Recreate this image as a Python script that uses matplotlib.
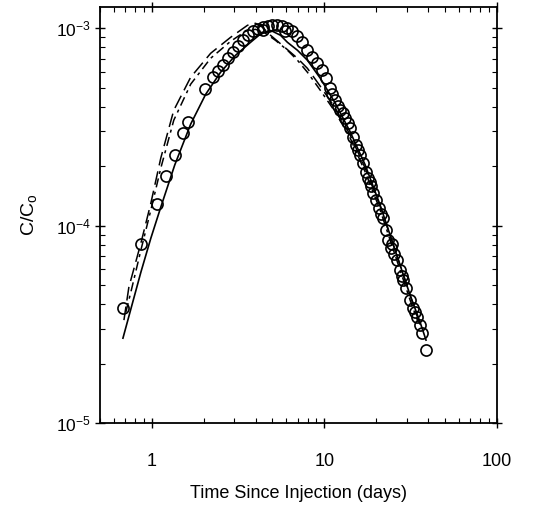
import matplotlib
matplotlib.use("Agg")
import matplotlib.pyplot as plt
from matplotlib.ticker import LogLocator, NullFormatter, FixedLocator

plt.rcParams['font.family'] = ['Liberation Sans', 'DejaVu Sans']
plt.rcParams['mathtext.fontset'] = 'custom'
plt.rcParams['mathtext.rm'] = 'Liberation Sans'
plt.rcParams['mathtext.it'] = 'Liberation Sans:italic'

# measured tracer concentrations (open circles)
obs_t = [0.680, 0.864, 1.069, 1.205, 1.358, 1.511, 1.615, 2.025, 2.252, 2.407,
         2.573, 2.750, 2.939, 3.142, 3.357, 3.588, 3.836, 4.100, 4.382, 4.382,
         4.684, 5.006, 5.350, 5.719, 5.953, 6.112, 6.531, 6.983, 7.462, 7.977,
         8.52, 9.11, 9.74, 10.27, 10.83, 11.12, 11.58, 12.05, 12.38, 12.88,
         13.23, 13.76, 14.14, 14.71, 15.31, 15.73, 16.15, 16.80, 17.49, 17.96,
         18.45, 18.69, 19.19, 19.98, 20.79, 21.35, 21.93, 22.83, 23.44, 24.39,
         24.73, 25.39, 26.42, 27.50, 28.24, 28.62, 29.79, 31.42, 32.70, 33.57,
         34.48, 35.88, 36.86, 38.87]
obs_c = [3.82e-5, 8.06e-5, 1.285e-4, 1.78e-4, 2.28e-4, 2.94e-4, 3.34e-4, 4.91e-4, 5.65e-4, 6.06e-4,
         6.50e-4, 7.05e-4, 7.56e-4, 8.11e-4, 8.69e-4, 9.22e-4, 9.66e-4, 9.88e-4, 1.012e-3, 9.77e-4,
         1.024e-3, 1.036e-3, 1.036e-3, 1.024e-3, 9.66e-4, 1.000e-3, 9.66e-4, 9.11e-4, 8.49e-4, 7.74e-4,
         7.13e-4, 6.65e-4, 6.13e-4, 5.58e-4, 4.97e-4, 4.63e-4, 4.32e-4, 4.03e-4, 3.84e-4, 3.71e-4,
         3.50e-4, 3.30e-4, 3.12e-4, 2.81e-4, 2.56e-4, 2.41e-4, 2.28e-4, 2.07e-4, 1.87e-4, 1.74e-4,
         1.66e-4, 1.58e-4, 1.46e-4, 1.35e-4, 1.23e-4, 1.14e-4, 1.09e-4, 9.49e-5, 8.45e-5, 7.69e-5,
         8.06e-5, 7.17e-5, 6.69e-5, 5.95e-5, 5.55e-5, 5.30e-5, 4.83e-5, 4.20e-5, 3.82e-5, 3.65e-5,
         3.44e-5, 3.14e-5, 2.86e-5, 2.34e-5]

# model fit (solid)
fit_t = [0.680, 0.864, 0.987, 1.127, 1.358, 1.680, 2.052, 2.505, 3.059, 3.735,
         4.382, 5.006, 5.568, 6.112, 6.983, 7.977, 9.48, 11.58, 14.14, 17.26,
         21.07, 25.73, 31.42, 35.88, 38.87]
fit_c = [2.69e-5, 5.81e-5, 8.64e-5, 1.241e-4, 2.03e-4, 3.27e-4, 4.63e-4, 5.99e-4, 7.30e-4, 8.49e-4,
         9.54e-4, 9.66e-4, 9.22e-4, 8.49e-4, 7.74e-4, 6.89e-4, 5.58e-4, 4.17e-4, 2.98e-4, 2.03e-4,
         1.27e-4, 7.51e-5, 4.45e-5, 3.25e-5, 2.63e-5]

# alternative model runs (dashed)
alt1_t = [0.689, 0.736, 0.864, 0.987, 1.127, 1.340, 1.680, 2.193, 2.862, 3.588,
          3.993, 4.382, 4.875, 5.794, 6.983, 7.977, 9.48, 11.58, 14.14, 17.26,
          21.07, 25.73, 31.42, 35.88]
alt1_c = [3.32e-5, 4.88e-5, 8.15e-5, 1.30e-4, 2.20e-4, 3.84e-4, 5.65e-4, 7.47e-4, 9.00e-4, 1.036e-3,
          1.060e-3, 1.012e-3, 9.22e-4, 8.11e-4, 7.05e-4, 6.27e-4, 5.08e-4, 3.94e-4, 2.87e-4, 1.955e-4,
          1.255e-4, 7.51e-5, 4.45e-5, 3.14e-5]

alt2_t = [0.707, 0.756, 0.864, 0.987, 1.127, 1.340, 1.680, 2.193, 2.862, 3.494,
          3.993, 4.560, 5.209, 6.112, 6.983, 7.977, 9.48, 11.58, 14.14, 17.26,
          21.07, 25.73, 31.42, 34.95]
alt2_c = [3.65e-5, 4.61e-5, 7.51e-5, 1.20e-4, 1.955e-4, 3.42e-4, 5.21e-4, 7.05e-4, 8.59e-4, 9.66e-4,
          9.88e-4, 9.43e-4, 8.69e-4, 7.74e-4, 6.89e-4, 5.99e-4, 4.85e-4, 3.76e-4, 2.77e-4, 1.87e-4,
          1.20e-4, 7.09e-5, 4.20e-5, 3.25e-5]

fig = plt.figure(figsize=(5.52, 5.09), dpi=100)
ax = fig.add_axes([0.181, 0.169, 0.719, 0.817])

ax.plot(alt1_t, alt1_c, color='black', lw=1.1, dashes=(9, 4))
ax.plot(alt2_t, alt2_c, color='black', lw=1.1, dashes=(6, 3, 2, 3))
ax.plot(fit_t, fit_c, color='black', lw=1.2)
ax.plot(obs_t, obs_c, 'o', mfc='none', mec='black', ms=8, mew=1.2)

ax.set_xscale('log')
ax.set_yscale('log')
ax.set_xlim(0.5, 100)
ax.set_ylim(1e-5, 1.28e-3)

ax.xaxis.set_major_locator(FixedLocator([1, 10, 100]))
ax.set_xticklabels(['1', '10', '100'])
ax.xaxis.set_minor_locator(LogLocator(base=10, subs=range(2, 10)))
ax.xaxis.set_minor_formatter(NullFormatter())
ax.yaxis.set_major_locator(FixedLocator([1e-5, 1e-4, 1e-3]))
ax.set_yticklabels(['10$^{-5}$', '10$^{-4}$', '10$^{-3}$'])
ax.yaxis.set_minor_locator(LogLocator(base=10, subs=range(2, 10)))
ax.yaxis.set_minor_formatter(NullFormatter())

ax.tick_params(which='both', top=True, right=True)
ax.tick_params(axis='x', which='major', labelsize=13, pad=18)
ax.tick_params(axis='y', which='major', labelsize=12.5, pad=3)
ax.tick_params(which='major', direction='inout', length=7, width=1.0)
ax.tick_params(which='minor', direction='in', length=3.5, width=0.8)
for s in ax.spines.values():
    s.set_linewidth(1.3)

ax.set_xlabel('Time Since Injection (days)', fontsize=13, labelpad=11)
ax.set_ylabel('C/C$_\\mathrm{o}$', fontsize=14, labelpad=12)

fig.savefig('out.png', dpi=100)
